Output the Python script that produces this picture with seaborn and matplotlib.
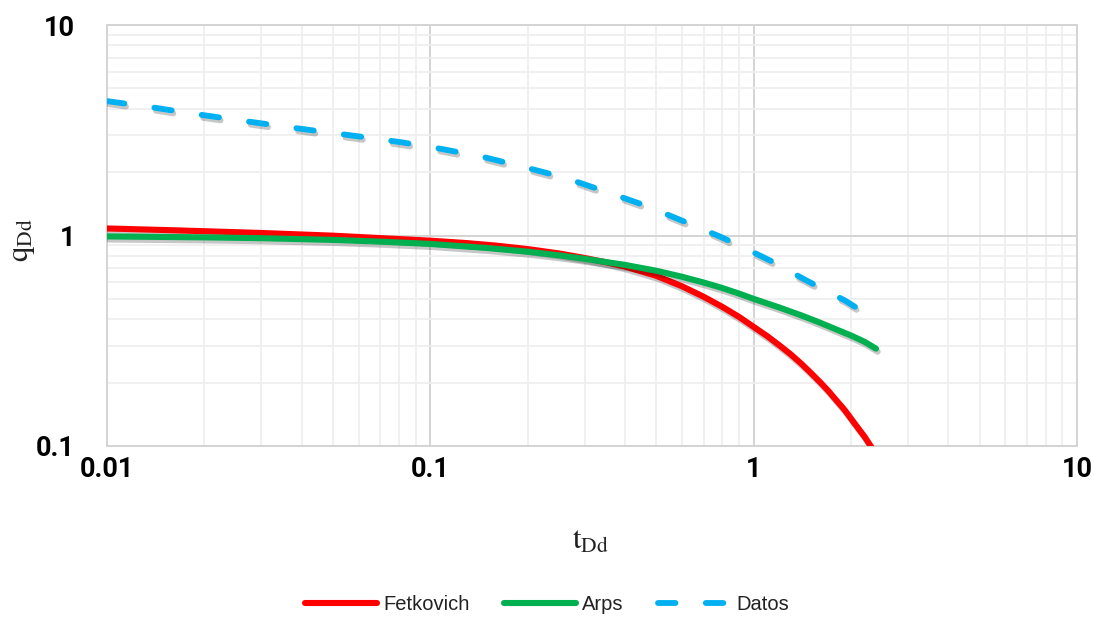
import matplotlib
matplotlib.use("Agg")
import matplotlib.pyplot as plt
import matplotlib.patheffects as pe
from matplotlib.lines import Line2D
from matplotlib.ticker import FixedLocator, LogLocator, FuncFormatter, NullFormatter
import seaborn as sns
import pandas as pd

# ---- data ----
t_fetkovich = [0.01, 0.015, 0.02, 0.03, 0.05, 0.07, 0.1, 0.13, 0.16, 0.2, 0.25, 0.3,
               0.35, 0.4, 0.5, 0.6, 0.7, 0.8, 0.9, 1.0, 1.1, 1.2, 1.3, 1.4, 1.5, 1.6,
               1.7, 1.8, 1.9, 2.0, 2.1, 2.2, 2.3, 2.36]
q_fetkovich = [1.08, 1.062, 1.048, 1.028, 0.998, 0.972, 0.945, 0.92, 0.895, 0.862, 0.822, 0.782,
               0.746, 0.712, 0.643, 0.574, 0.512, 0.458, 0.411, 0.368, 0.333, 0.301, 0.273,
               0.247, 0.223, 0.202, 0.183, 0.165, 0.150, 0.135, 0.122, 0.111, 0.100, 0.094]

t_arps = [0.01, 0.02, 0.03, 0.05, 0.07, 0.1, 0.15, 0.2, 0.25, 0.3, 0.4, 0.5, 0.6, 0.7,
          0.8, 0.9, 1.0, 1.2, 1.4, 1.6, 1.8, 2.0, 2.2, 2.39]
q_arps = [0.99, 0.98, 0.971, 0.953, 0.935, 0.912, 0.872, 0.838, 0.805, 0.775, 0.725, 0.68,
          0.637, 0.598, 0.563, 0.53, 0.5, 0.455, 0.418, 0.386, 0.358, 0.335, 0.313, 0.29]

t_datos = [0.01, 0.0137, 0.0185, 0.0249, 0.0335, 0.0451, 0.0607, 0.0817, 0.108,
           0.146, 0.196, 0.261, 0.347, 0.461, 0.606, 0.797, 1.0, 1.125, 1.46, 1.92, 2.37]
q_datos = [4.35, 4.07, 3.79, 3.55, 3.33, 3.13, 2.95, 2.77, 2.58,
           2.36, 2.11, 1.88, 1.62, 1.39, 1.17, 0.98, 0.83, 0.76, 0.61, 0.49, 0.40]

series_names = ["Fetkovich", "Arps", "Datos"]
series_colors = ["#FF0000", "#00B050", "#00B0F0"]

x_ticks = [0.01, 0.1, 1, 10]
y_ticks = [0.1, 1, 10]
x_label = r"$\mathrm{t_{Dd}}$"
y_label = r"$\mathrm{q_{Dd}}$"

# ---- figure ----
sns.set_style("white")
plt.rcParams["mathtext.fontset"] = "stix"
plt.rcParams["font.family"] = ["Liberation Sans", "DejaVu Sans"]

fig = plt.figure(figsize=(10.94, 6.18), dpi=100)
ax = fig.add_axes([107 / 1094, 1 - 446 / 618, 970 / 1094, 421 / 618])

shadow = [pe.SimpleLineShadow(offset=(1.2, -2.2), shadow_color="black", alpha=0.22),
          pe.Normal()]

df_f = pd.DataFrame({"t": t_fetkovich, "q": q_fetkovich})
df_a = pd.DataFrame({"t": t_arps, "q": q_arps})
df_d = pd.DataFrame({"t": t_datos, "q": q_datos})

sns.lineplot(data=df_f, x="t", y="q", ax=ax, color=series_colors[0], lw=4.4,
             sort=False, estimator=None, solid_capstyle="round", solid_joinstyle="round",
             path_effects=shadow, zorder=3)
sns.lineplot(data=df_a, x="t", y="q", ax=ax, color=series_colors[1], lw=4.4,
             sort=False, estimator=None, solid_capstyle="round", solid_joinstyle="round",
             path_effects=shadow, zorder=4)
sns.lineplot(data=df_d, x="t", y="q", ax=ax, color=series_colors[2], lw=4.2,
             sort=False, estimator=None, path_effects=shadow, zorder=5)
ax.lines[-1].set_dashes((3.0, 5.2))
ax.lines[-1].set_dash_capstyle("round")

ax.set_xscale("log")
ax.set_yscale("log")
ax.set_xlim(0.01, 10)
ax.set_ylim(0.1, 10)

ax.xaxis.set_major_locator(FixedLocator(x_ticks))
ax.yaxis.set_major_locator(FixedLocator(y_ticks))
ax.xaxis.set_minor_locator(LogLocator(base=10, subs=range(2, 10)))
ax.yaxis.set_minor_locator(LogLocator(base=10, subs=range(2, 10)))
fmt = FuncFormatter(lambda v, p: "{:g}".format(v))
ax.xaxis.set_major_formatter(fmt)
ax.yaxis.set_major_formatter(fmt)
ax.xaxis.set_minor_formatter(NullFormatter())
ax.yaxis.set_minor_formatter(NullFormatter())

ax.grid(True, which="major", color="#d4d4d4", lw=1.4, zorder=0)
ax.grid(True, which="minor", color="#eeeeee", lw=1.2, zorder=0)
ax.set_axisbelow(True)
for s in ax.spines.values():
    s.set_color("#d4d4d4")
    s.set_linewidth(1.4)

ax.tick_params(axis="both", which="both", length=0, colors="black")
ax.tick_params(axis="x", pad=7)
ax.tick_params(axis="y", pad=23)
for lab in ax.get_xticklabels() + ax.get_yticklabels():
    lab.set_fontfamily(["Roboto", "DejaVu Sans"])
    lab.set_fontweight("bold")
    lab.set_fontsize(19.5)
    lab.set_color("black")

ax.set_xlabel(x_label, fontsize=22, color="#222222")
ax.set_ylabel(y_label, fontsize=22, color="#222222")
ax.xaxis.set_label_coords(0.498, -0.19)
ax.yaxis.set_label_coords(-0.072, 0.49)

handles = [
    Line2D([], [], color=series_colors[0], lw=4.4, solid_capstyle="round"),
    Line2D([], [], color=series_colors[1], lw=4.4, solid_capstyle="round"),
    Line2D([], [], color=series_colors[2], lw=4.2, dashes=(3.0, 5.2), dash_capstyle="round"),
]
leg = fig.legend(handles, series_names, loc="center", bbox_to_anchor=(0.5, 1 - 605 / 618),
                 ncol=3, frameon=False, fontsize=14.5, handlelength=3.6, handletextpad=0.3,
                 columnspacing=1.7)
for txt in leg.get_texts():
    txt.set_color("#222222")

fig.savefig("out.png", dpi=100)
